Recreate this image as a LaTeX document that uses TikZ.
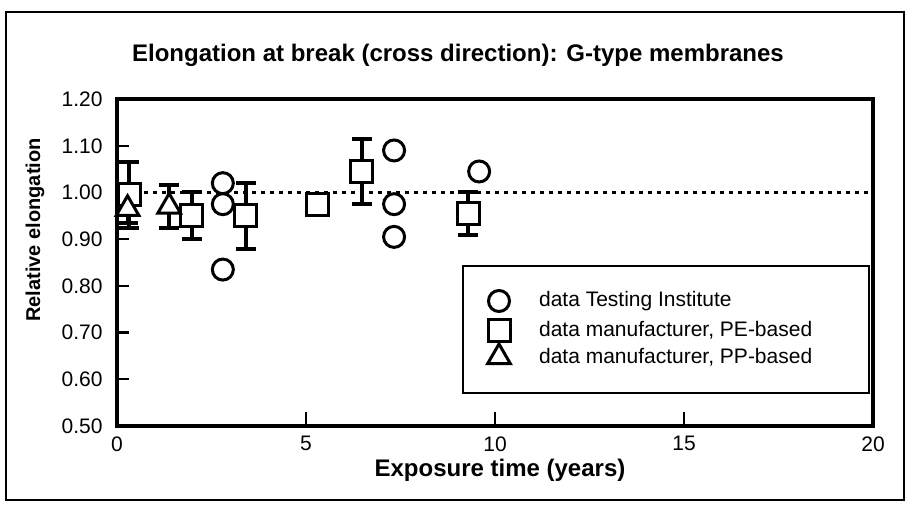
\documentclass[tikz,border=0pt]{standalone}
\usepackage{fontspec}
\setmainfont{Liberation Sans}
\usepackage{tikz}
\usetikzlibrary{positioning,shapes.geometric}

\begin{document}
\begin{tikzpicture}[x=0.5pt, y=0.5pt,
  font=\fontsize{10.5}{12}\selectfont,
  mk/.style={draw, fill=white, line width=1.5pt, inner sep=0pt},
  circ/.style={mk, circle, minimum size=10.5pt},
  sqr/.style={mk, rectangle, minimum size=11pt},
  tri/.style={mk, regular polygon, regular polygon sides=3, minimum size=13pt},
  errbar/.style={line width=2pt},
  dotline/.style={line width=1.5pt, dash pattern=on 2pt off 2.5pt},
  heading/.style={font=\fontsize{12}{14}\selectfont\bfseries},
  ticklab/.style={inner sep=0pt}]
\useasboundingbox (0,0) rectangle (909,509);
\draw[line width=1pt] (6,9) rectangle (904,497);

\node[heading] (title) at (458,454) {Elongation at break (cross direction): G-type membranes};
\node[heading] (xlab) at (500,39) {Exposure time (years)};
\node[font=\fontsize{10}{12}\selectfont\bfseries, rotate=90] (ylab) at (35,279) {Relative elongation};

\begin{scope}[shift={(58.5pt,-75.25pt)}, x=18.9pt, y=233.5pt]
\coordinate (origin) at (0,0.5);
\coordinate (corner) at (20,1.2);
\draw[dotline] (0,1) -- (20,1);
\draw[line width=2pt] (origin) rectangle (corner);
\foreach \v in {0.6,0.7,0.8,0.9,1.0,1.1}
  \draw[line width=1.2pt] (0,\v) -- ++(6pt,0);
\foreach \t in {5,10,15}
  \draw[line width=1.2pt] (\t,0.5) -- ++(0,7pt);
\foreach \v [count=\i] in {0.50,0.60,0.70,0.80,0.90,1.00,1.10,1.20}
  \node[ticklab, anchor=east] (yt\i) at ([xshift=-7pt]0,\v) {\v};
\foreach \t [count=\i] in {0,5,10,15,20}
  \node[ticklab, anchor=north] (xt\i) at ([yshift=-5pt]\t,0.5) {\t};

\foreach \x/\y/\e in {0.32/0.995/0.07, 1.98/0.95/0.05, 3.41/0.95/0.07,
    6.48/1.045/0.07, 9.29/0.955/0.045, 0.28/0.965/0.03, 1.38/0.97/0.047} {
  \draw[errbar] (\x,\y-\e) -- (\x,\y+\e);
  \draw[errbar] ([xshift=-5pt]\x,\y-\e) -- ([xshift=5pt]\x,\y-\e);
  \draw[errbar] ([xshift=-5pt]\x,\y+\e) -- ([xshift=5pt]\x,\y+\e);
}
\foreach \x/\y [count=\i] in {2.8/1.02, 2.8/0.975, 2.8/0.835, 7.33/1.09,
    7.33/0.975, 7.33/0.905, 9.58/1.045}
  \node[circ] (ti\i) at (\x,\y) {};
\foreach \x/\y [count=\i] in {0.32/0.995, 1.98/0.95, 3.41/0.95, 5.3/0.975,
    6.48/1.045, 9.29/0.955}
  \node[sqr] (pe\i) at (\x,\y) {};
\foreach \x/\y [count=\i] in {0.28/0.965, 1.38/0.97}
  \node[tri] (pp\i) at (\x,\y) {};
\end{scope}

\node[draw, line width=1pt, minimum width=203pt, minimum height=63.5pt] (legend) at (666,179.5) {};
\node[circ] (lgti) at (499,208) {};
\node[sqr] (lgpe) at (499,179) {};
\node[tri] (lgpp) at (499,152) {};
\node[anchor=west] (txti) at (532,208) {data Testing Institute};
\node[anchor=west] (txpe) at (532,179) {data manufacturer, PE-based};
\node[anchor=west] (txpp) at (532,152) {data manufacturer, PP-based};
\end{tikzpicture}
\end{document}
